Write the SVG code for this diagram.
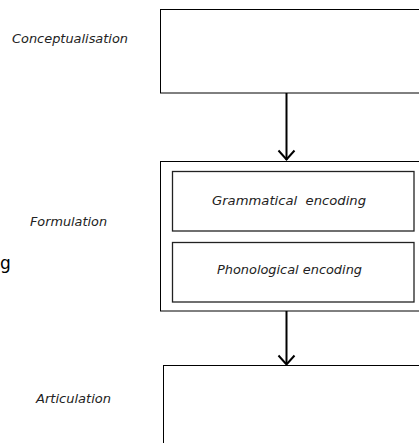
<svg xmlns="http://www.w3.org/2000/svg" width="419" height="443" viewBox="0 0 419 443">
<style>
.box{fill:#fff;stroke:#000;stroke-width:1}
.inner{fill:#fff;stroke:#222;stroke-width:1.3}
.lbl{font-family:"DejaVu Sans",sans-serif;font-style:italic;font-size:12.7px;fill:#222}
.conn{stroke:#000;stroke-width:2;fill:none}
</style>
<rect width="419" height="443" fill="#fff"/>
<g id="conceptualisation">
<rect class="box" x="160.5" y="9.5" width="270" height="83.5"/>
<text class="lbl" x="12" y="43" textLength="116" lengthAdjust="spacingAndGlyphs">Conceptualisation</text>
</g>
<g id="formulation">
<rect class="box" x="160.5" y="161.5" width="270" height="149.5"/>
<text class="lbl" x="30" y="226" textLength="77" lengthAdjust="spacingAndGlyphs">Formulation</text>
</g>
<g id="grammatical">
<rect class="inner" x="172.5" y="171.5" width="241.5" height="59.5"/>
<text class="lbl" x="212" y="205" textLength="154" lengthAdjust="spacingAndGlyphs" xml:space="preserve">Grammatical  encoding</text>
</g>
<g id="phonological">
<rect class="inner" x="172.5" y="242.5" width="241.5" height="59.5"/>
<text class="lbl" x="217" y="274" textLength="145" lengthAdjust="spacingAndGlyphs">Phonological encoding</text>
</g>
<g id="articulation">
<rect class="box" x="163.5" y="365.5" width="270" height="100"/>
<text class="lbl" x="36" y="403" textLength="75" lengthAdjust="spacingAndGlyphs">Articulation</text>
</g>
<text x="0" y="269" style="font-family:'DejaVu Sans',sans-serif;font-size:17px;fill:#000">g</text>
<g id="connectors">
<path class="conn" d="M286.5 93V160"/>
<path class="conn" d="M278.5 150.5L286.5 159.5L294.5 150.5"/>
<path class="conn" d="M286.5 311V364"/>
<path class="conn" d="M278.5 355.5L286.5 364.5L294.5 355.5"/>
</g>
</svg>
